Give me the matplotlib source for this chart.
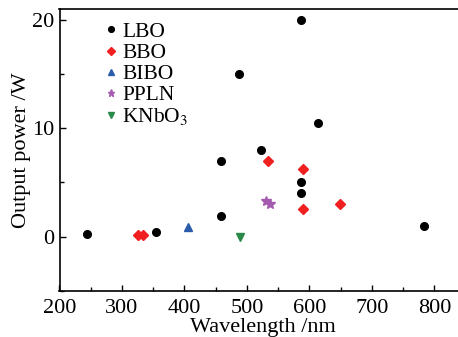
import matplotlib
matplotlib.use('Agg')
import matplotlib.pyplot as plt
from matplotlib.ticker import MultipleLocator

plt.rcParams['font.family'] = ['Liberation Serif', 'DejaVu Serif']
plt.rcParams['mathtext.fontset'] = 'stix'

# data
lbo_wl = [244, 354, 459, 459, 487, 523, 586, 586, 587, 613, 783]
lbo_p = [0.2, 0.45, 1.9, 7.0, 15.0, 8.0, 20.0, 5.0, 4.0, 10.5, 1.0]
bbo_wl = [326, 334, 534, 589, 589, 649]
bbo_p = [0.1, 0.1, 7.0, 6.2, 2.5, 3.0]
bibo_wl = [405]
bibo_p = [0.85]
ppln_wl = [531, 537]
ppln_p = [3.3, 3.0]
knbo_wl = [489]
knbo_p = [0.0]

W, H = 458, 337
fig = plt.figure(figsize=(W / 100, H / 100), dpi=100)
ax = fig.add_axes([59.5 / W, 46.3 / H, 406.25 / W, 281.7 / H])

ax.plot(lbo_wl, lbo_p, 'o', color='black', ms=5.5, label='LBO', ls='none')
ax.plot(bbo_wl, bbo_p, 'D', color='#f02020', ms=5, label='BBO', ls='none')
ax.plot(bibo_wl, bibo_p, '^', color='#2a5caa', ms=6, label='BIBO', ls='none')
ax.plot(ppln_wl, ppln_p, '*', color='#a45aae', ms=7, label='PPLN', ls='none')
ax.plot(knbo_wl, knbo_p, 'v', color='#2a8a4a', ms=6, label='KNbO$_3$', ls='none')

ax.set_xlim(200, 850)
ax.set_ylim(-5, 21)
ax.xaxis.set_major_locator(MultipleLocator(100))
ax.xaxis.set_minor_locator(MultipleLocator(50))
ax.yaxis.set_major_locator(MultipleLocator(10))
ax.yaxis.set_minor_locator(MultipleLocator(5))
ax.tick_params(which='both', direction='in', labelsize=16, width=1)
ax.tick_params(which='major', length=4)
ax.tick_params(axis='x', which='major', pad=6)
ax.tick_params(which='minor', length=3)
ax.spines['right'].set_visible(False)
for s in ['left', 'bottom', 'top']:
    ax.spines[s].set_linewidth(1.2)

ax.set_xlabel('Wavelength /nm', fontsize=16, labelpad=0)
ax.set_ylabel('Output power /W', fontsize=16, labelpad=1)

ax.legend(loc='upper left', bbox_to_anchor=(0.08, 0.985), frameon=False,
          fontsize=15.5, handletextpad=0.0, labelspacing=0.05, handlelength=1,
          markerscale=0.75, borderaxespad=0)

fig.savefig('out.png', dpi=100)
